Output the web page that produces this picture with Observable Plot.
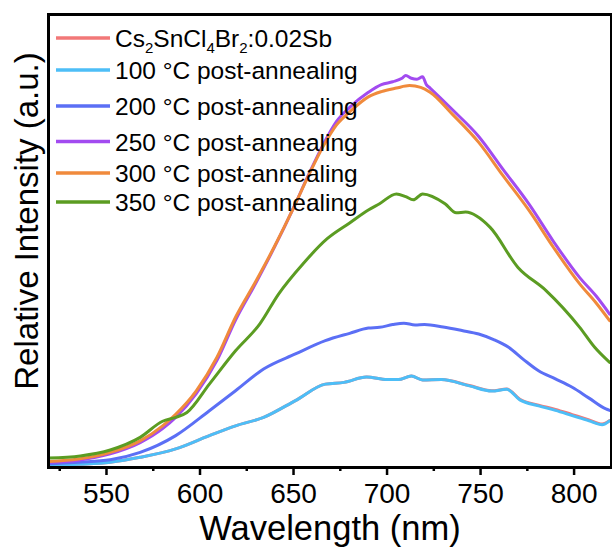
<!DOCTYPE html>
<html><head><meta charset="utf-8">
<script src="https://cdn.jsdelivr.net/npm/d3@7"></script>
<script src="https://cdn.jsdelivr.net/npm/@observablehq/plot@0.6"></script>
<style>
body{margin:0;background:#fff;}
#chart{position:relative;width:612px;height:549px;}
</style>
</head><body><div id="chart"></div>
<script>
// [wavelength (nm), relative intensity (a.u.)]
const pristine = [[519,5],[535,9],[552,15],[568,29],[587,53],[605,91],[619,119],[634,143],[651,191],[667,238],[677,243],[689,258],[700,251],[706,251],[713,261],[719,250],[729,251],[744,234],[756,219],[764,224],[771,195],[781,178],[790,166],[799,151],[808,136],[815,124],[819,134]];
const anneal100 = [[519,5],[535,9],[552,15],[568,29],[587,53],[605,91],[619,119],[634,143],[651,191],[667,238],[677,243],[689,258],[700,251],[706,251],[713,261],[719,250],[729,251],[744,233],[756,218],[764,223],[771,193],[781,176],[790,163],[799,148],[808,133],[815,122],[819,133]];
const anneal200 = [[519,10],[535,15],[552,22],[568,43],[587,91],[605,162],[619,219],[634,281],[651,324],[667,362],[680,383],[690,398],[696,400],[703,408],[709,412],[715,407],[720,408],[730,401],[740,391],[749,381],[757,365],[765,343],[773,308],[781,276],[790,253],[799,229],[808,198],[817,167],[819,163]];
const anneal250 = [[519,15],[535,21],[552,39],[568,71],[580,111],[587,143],[598,211],[609,305],[619,421],[630,528],[640,631],[650,741],[658,835],[666,923],[673,988],[680,1028],[690,1071],[697,1093],[703,1101],[708,1111],[710,1119],[713,1111],[716,1108],[719,1115],[721,1093],[723,1083],[735,1021],[749,945],[762,851],[776,751],[789,645],[803,542],[812,488],[819,438]];
const anneal300 = [[519,17],[535,24],[552,43],[568,76],[580,119],[587,152],[598,219],[609,314],[619,429],[630,533],[640,633],[650,741],[658,833],[666,918],[673,978],[680,1015],[690,1058],[697,1073],[705,1083],[712,1090],[718,1085],[723,1071],[735,1008],[749,928],[762,833],[776,733],[789,628],[803,524],[812,468],[819,419]];
const anneal350 = [[519,27],[536,33],[552,50],[568,86],[580,132],[587,143],[593,157],[605,238],[619,333],[632,410],[642,495],[655,581],[668,653],[680,698],[690,735],[696,753],[705,781],[710,773],[714,764],[719,781],[731,753],[737,727],[742,729],[755,686],[770,571],[785,505],[803,400],[811,343],[819,300]];

const seriesNames = ["Cs2SnCl4Br2:0.02Sb","100 °C post-annealing","200 °C post-annealing","250 °C post-annealing","300 °C post-annealing","350 °C post-annealing"];
const seriesColors = ["#f27878","#4dbef7","#5b6ff5","#a24bf0","#f08a3c","#5b9c22"];
const seriesData = [pristine, anneal100, anneal200, anneal250, anneal300, anneal350];
const majorTicks = [550,600,650,700,750,800];
const minorTicks = [525,575,625,675,725,775];

const rows = seriesData.flatMap((arr, i) => arr.map(([x, y]) => ({x, y, s: i})));

const plot = Plot.plot({
  width: 612, height: 549,
  marginLeft: 48, marginRight: 1, marginTop: 14, marginBottom: 82,
  style: {fontFamily: "'Liberation Sans', Arial, sans-serif", background: "white", color: "black"},
  x: {domain: [519, 820]},
  y: {domain: [0, 1293], axis: null},
  marks: [
    Plot.line(rows, {x: "x", y: "y", z: "s", stroke: d => seriesColors[d.s], strokeWidth: 3, clip: true, curve: "monotone-x"}),
    Plot.frame({strokeWidth: 3}),
    Plot.axisX(minorTicks, {tickSize: 4, strokeWidth: 2.5, tickFormat: () => "", label: null}),
    Plot.axisX(majorTicks, {tickSize: 8, strokeWidth: 2.5, tickPadding: 8, fontSize: 28, label: null}),
    Plot.text(["Wavelength (nm)"], {frameAnchor: "bottom", dy: 72, lineAnchor: "bottom", fontSize: 34.5}),
    Plot.text(["Relative Intensity (a.u.)"], {frameAnchor: "left", textAnchor: "middle", rotate: -90, dx: -11, dy: -20, lineAnchor: "bottom", fontSize: 33})
  ]
});
document.getElementById("chart").appendChild(plot);

// Legend
const svg = d3.select(plot);
const lineYs = [38, 70, 106, 141.5, 173, 202];
const g = svg.append("g")
  .attr("font-family", "'Liberation Sans', Arial, sans-serif")
  .attr("font-size", 24.5)
  .attr("text-anchor", "start");
seriesNames.forEach((name, i) => {
  const y = lineYs[i];
  g.append("line").attr("x1", 56).attr("x2", 110).attr("y1", y).attr("y2", y)
    .attr("stroke", seriesColors[i]).attr("stroke-width", 3.5);
  const t = g.append("text").attr("x", 115).attr("y", y + 9).attr("fill", "black").attr("text-anchor", "start");
  if (i === 0) {
    const parts = [["Cs",0],["2",1],["SnCl",0],["4",1],["Br",0],["2",1],[":0.02Sb",0]];
    let sub = false;
    parts.forEach(([s, isSub]) => {
      const ts = t.append("tspan").text(s);
      if (isSub && !sub) { ts.attr("dy", 6).attr("font-size", 15); sub = true; }
      else if (isSub) { ts.attr("font-size", 15); }
      else if (!isSub && sub) { ts.attr("dy", -6); sub = false; }
    });
  } else {
    t.text(name);
  }
});
</script>
</body></html>
